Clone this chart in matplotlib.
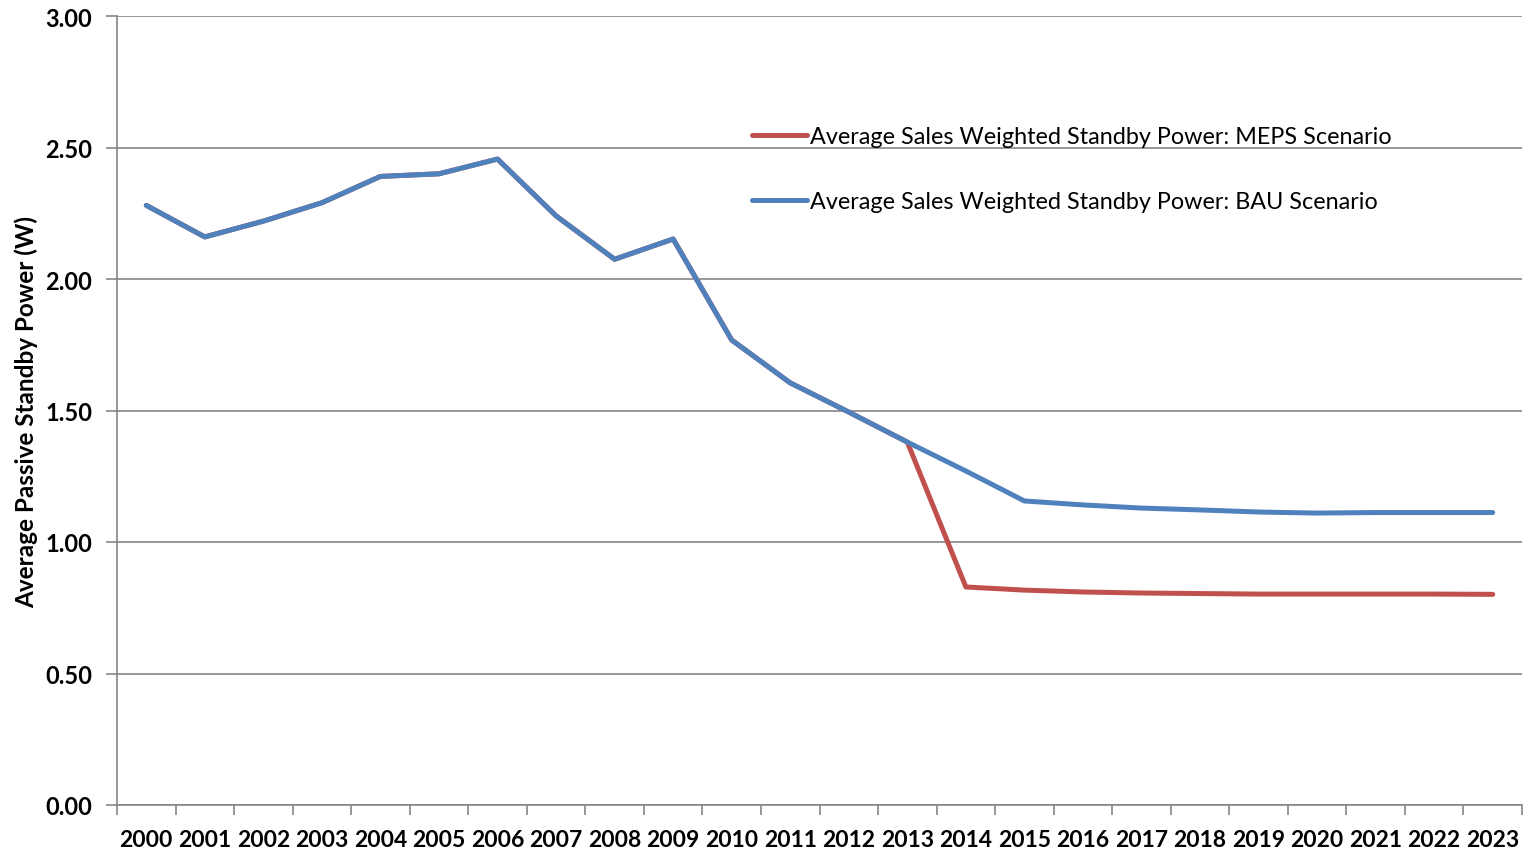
import matplotlib as mpl
mpl.use('Agg')
import matplotlib.pyplot as plt
import numpy as np

years = [str(y) for y in range(2000, 2024)]
meps = [2.28, 2.16, 2.22, 2.29, 2.39, 2.40, 2.456, 2.24, 2.075, 2.152, 1.768, 1.605, 1.494, 1.38,
        0.829, 0.817, 0.810, 0.806, 0.804, 0.802, 0.802, 0.802, 0.802, 0.801]
bau = [2.28, 2.16, 2.22, 2.29, 2.39, 2.40, 2.456, 2.24, 2.075, 2.152, 1.768, 1.605, 1.494, 1.38,
       1.27, 1.156, 1.141, 1.129, 1.122, 1.114, 1.110, 1.112, 1.112, 1.112]

plt.rcParams['font.family'] = ['Lato', 'DejaVu Sans']

fig = plt.figure(figsize=(15.26, 8.53), dpi=100)
ax = fig.add_axes([117/1526, 47/853, 1405/1526, 789/853])

x = np.arange(len(years))
ax.plot(x, meps, color='#C0504D', lw=3.6, solid_capstyle='round', solid_joinstyle='round',
        label='Average Sales Weighted Standby Power: MEPS Scenario', zorder=3)
ax.plot(x, bau, color='#4F81BD', lw=3.6, solid_capstyle='round', solid_joinstyle='round',
        label='Average Sales Weighted Standby Power: BAU Scenario', zorder=4)

ax.set_xlim(-0.5, len(years) - 0.5)
ax.set_ylim(0, 3)
ax.set_yticks(np.arange(0, 3.01, 0.5))
ax.set_yticklabels(['%.2f' % v for v in np.arange(0, 3.01, 0.5)], fontsize=17, fontweight='bold')
ax.yaxis.grid(True, color='#868686', lw=1.2)
ax.set_axisbelow(True)

# category labels centred, tick marks on the boundaries
ax.set_xticks(x)
ax.set_xticklabels(years, fontsize=16.5, fontweight='bold')
ax.tick_params(axis='x', length=0, pad=17)
ax.set_xticks(np.arange(-0.5, len(years)), minor=True)
ax.tick_params(axis='x', which='minor', length=7, color='#868686', width=1.2)
ax.tick_params(axis='y', length=8, color='#868686', width=1.2, pad=10)

for s in ['top', 'right']:
    ax.spines[s].set_visible(False)
for s in ['left', 'bottom']:
    ax.spines[s].set_color('#868686')
    ax.spines[s].set_linewidth(1.2)

ax.set_ylabel('Average Passive Standby Power (W)', fontsize=17.5, fontweight='bold', labelpad=5)

ax.legend(loc='upper left', bbox_to_anchor=(731/1526, 1 - 106/853), bbox_transform=fig.transFigure,
          frameon=False, fontsize=16.8, handlelength=2.35, handletextpad=0.15, labelspacing=1.9)

fig.savefig('out.png', dpi=100)
